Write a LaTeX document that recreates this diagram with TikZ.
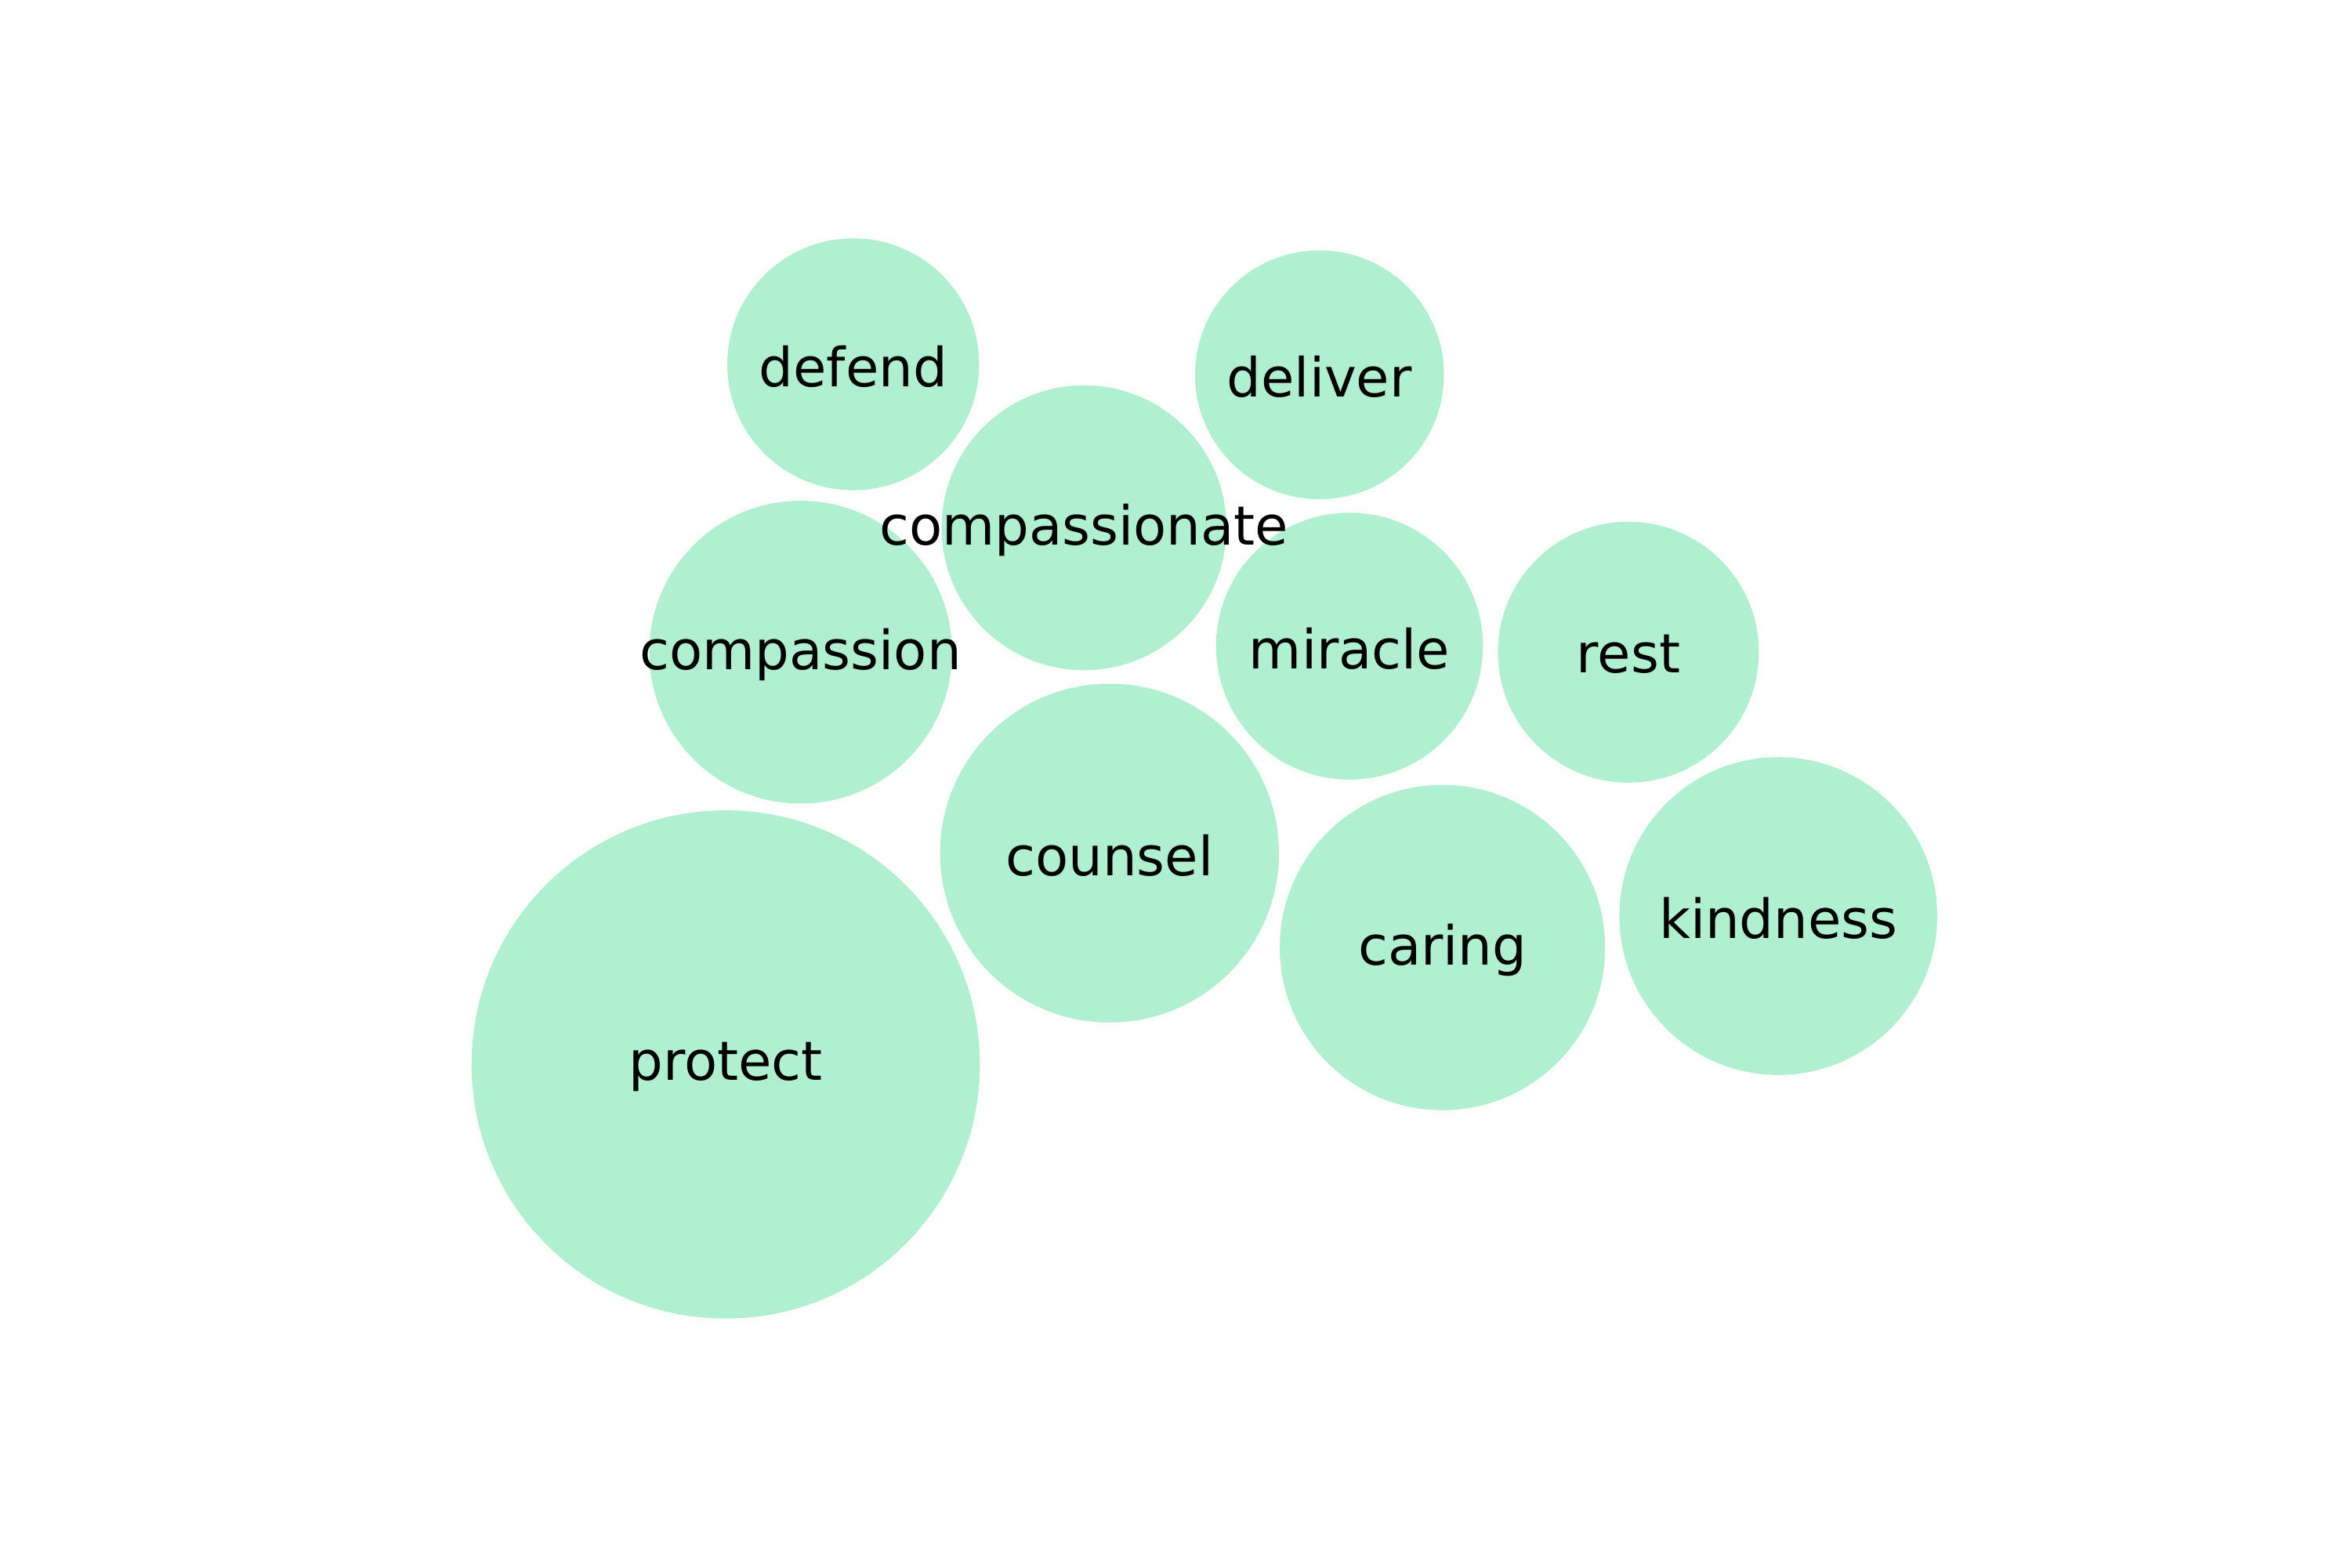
\documentclass[tikz,border=0pt]{standalone}
\usepackage{fontspec}
\setmainfont{DejaVu Sans}
\usepackage{tikz}
\definecolor{bub}{HTML}{B0F0D0}

\begin{document}
\begin{tikzpicture}[x=1cm,y=1cm]
  \useasboundingbox (0,0) rectangle (30,20);
  \tikzset{bubble/.style={circle,fill=bub,inner sep=0pt,minimum size=2*#1 cm},
    word/.style={font=\fontsize{19.6}{23}\selectfont,inner sep=0pt}}
  % circles first, words on top
  \foreach \name/\x/\y/\r in {defend/10.887/15.351/1.607, deliver/16.837/15.217/1.588,
    compassionate/13.833/13.265/1.818, compassion/10.217/11.677/1.932,
    miracle/17.220/11.754/1.703, rest/20.779/11.677/1.665,
    counsel/14.158/9.113/2.162, caring/18.406/7.908/2.076,
    kindness/22.692/8.310/2.028, protect/9.260/6.416/3.243}
    \node[bubble=\r] (\name) at (\x,\y) {};
  \foreach \name in {defend,deliver,compassionate,compassion,miracle,rest,
    counsel,caring,kindness,protect}
    \node[word] (\name-t) at ([yshift=-0.03cm]\name.center) {\name};
\end{tikzpicture}
\end{document}
